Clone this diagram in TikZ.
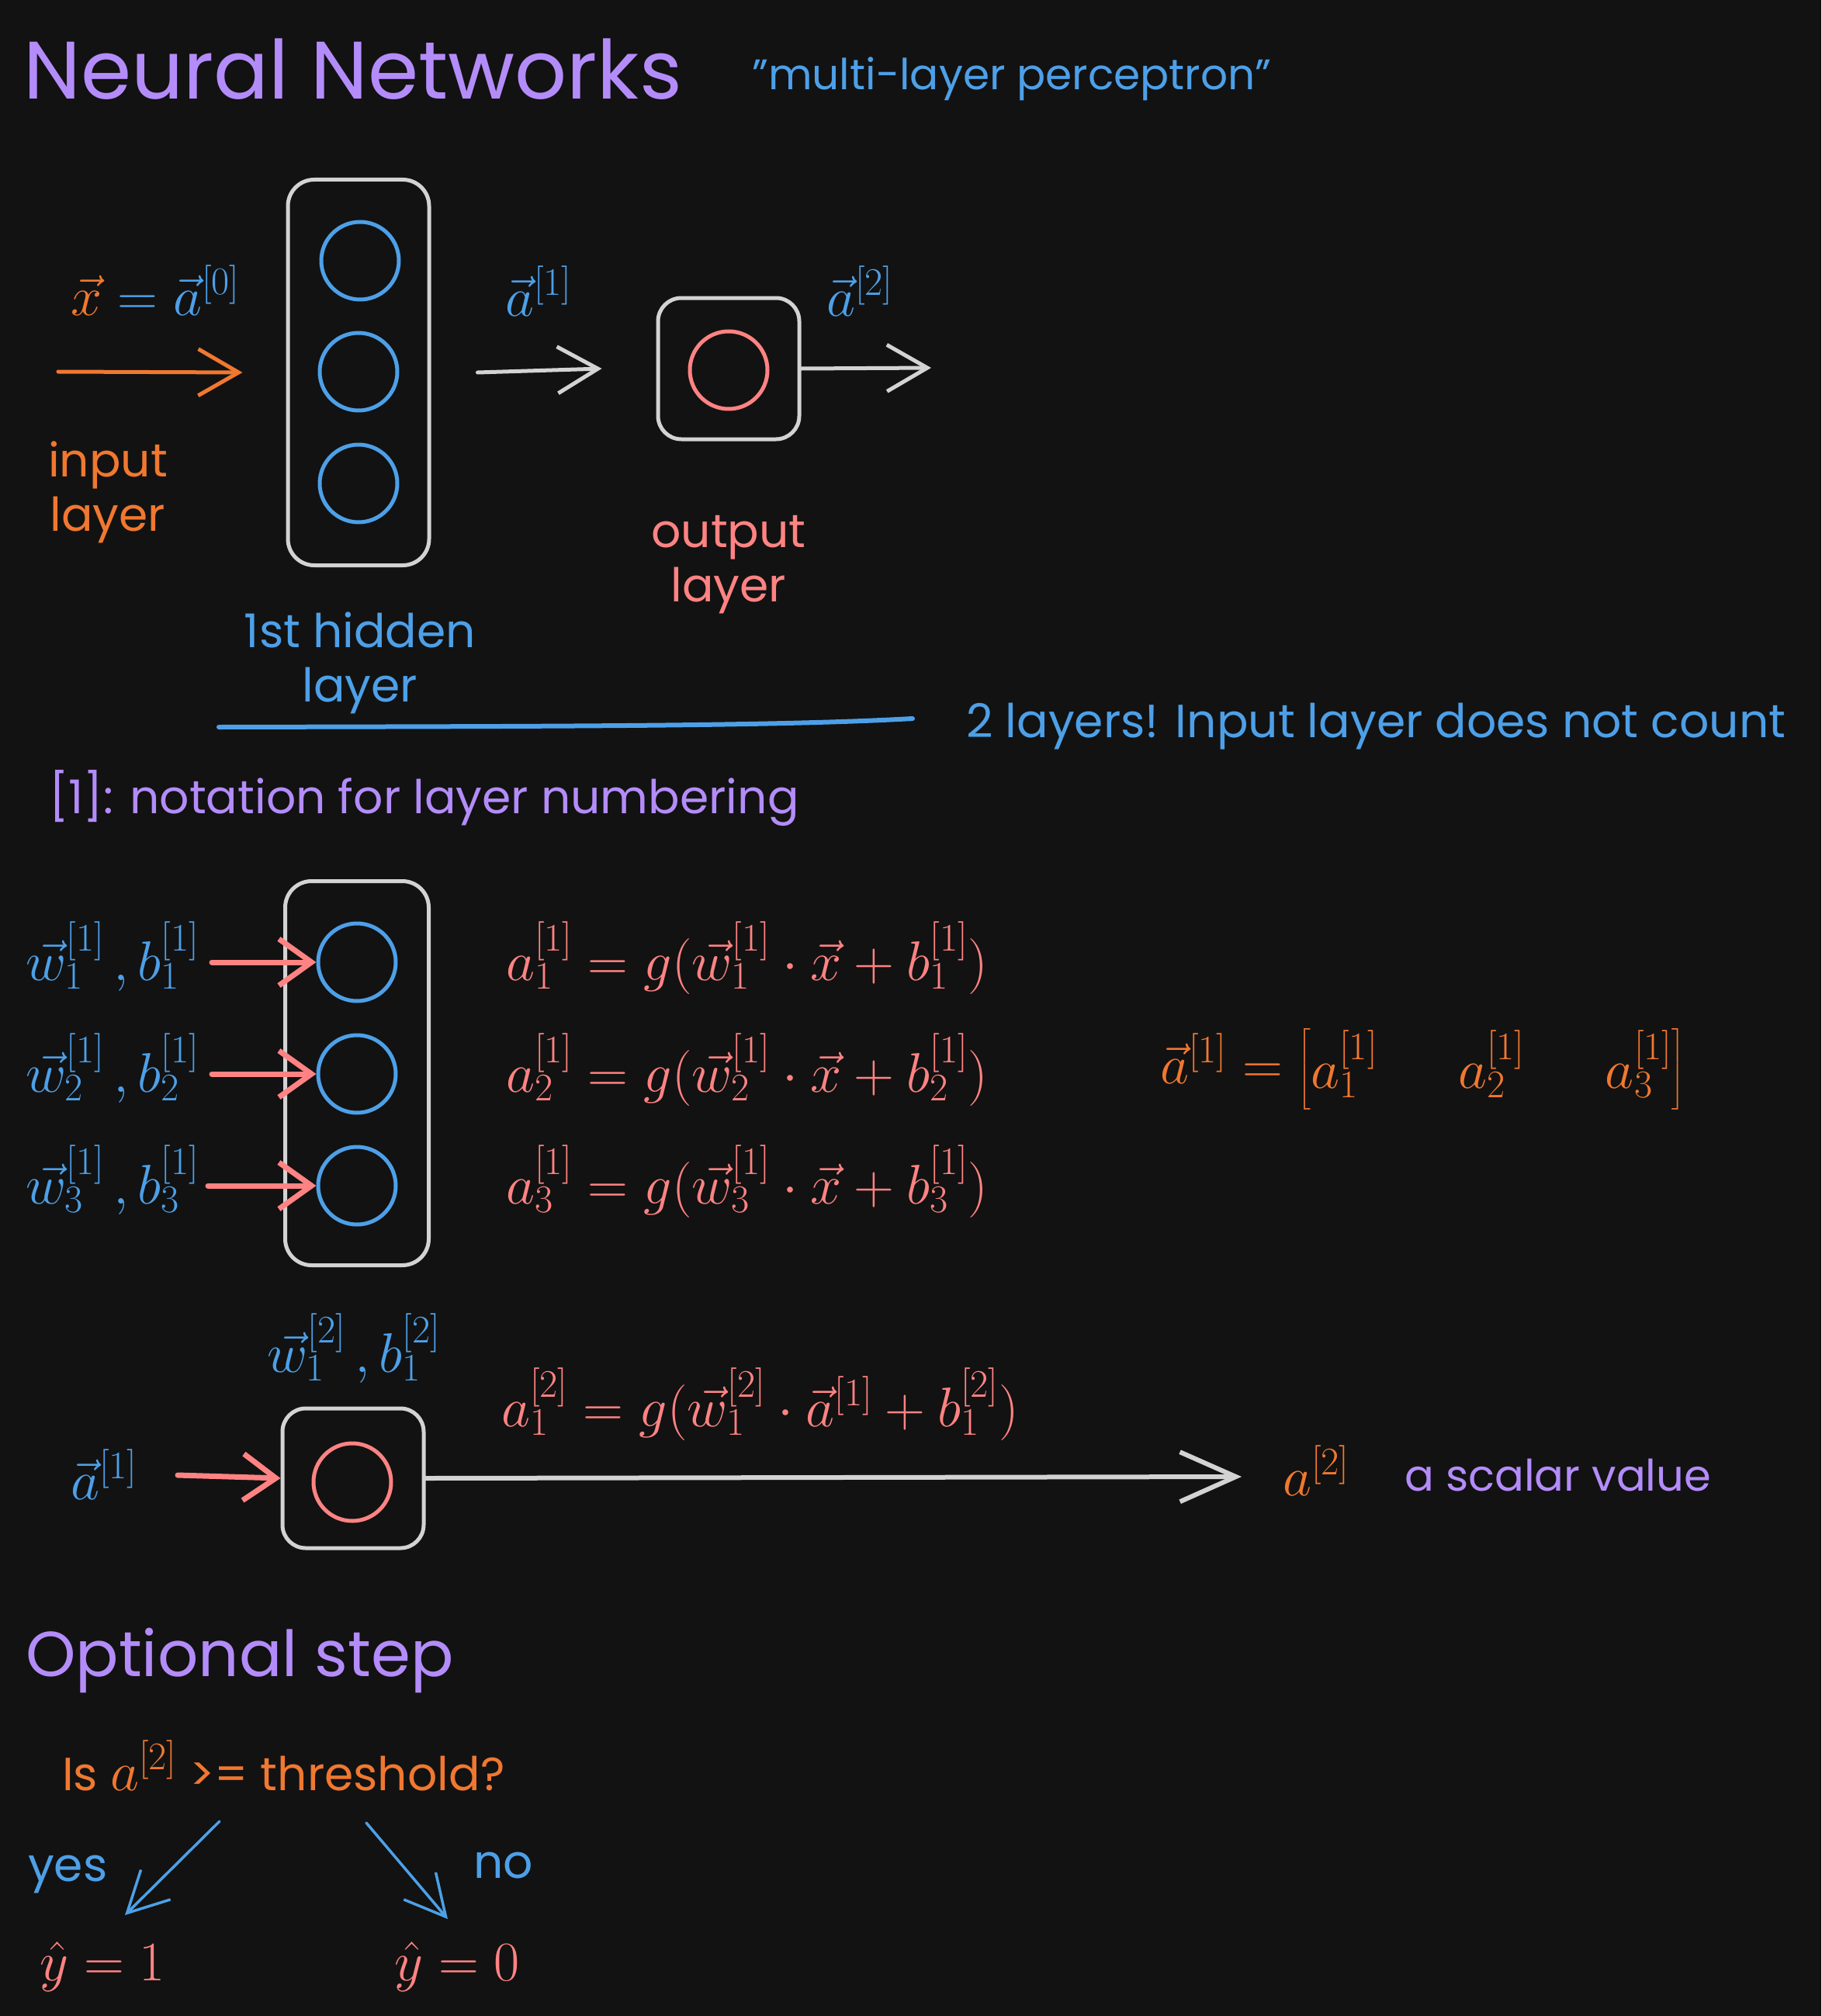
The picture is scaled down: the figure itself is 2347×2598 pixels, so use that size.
\RequirePackage{fix-cm}
\documentclass[tikz,border=0pt]{standalone}
\usepackage{amsmath}
\usepackage[no-math]{fontspec}
\setmainfont{Poppins}
\usetikzlibrary{arrows.meta}
\definecolor{nnbg}{HTML}{121212}
\definecolor{nnpurple}{HTML}{B48CFA}
\definecolor{nnblue}{HTML}{4DA0E8}
\definecolor{nnorange}{HTML}{F07830}
\definecolor{nnred}{HTML}{FF8383}
\definecolor{nngray}{HTML}{D3D3D3}
\begin{document}
\begin{tikzpicture}[x=1pt,y=-1pt,
  every node/.style={inner sep=0pt},
  hand/.style={font=\fontsize{60}{70}\selectfont},
  handtwo/.style={font=\fontsize{60}{70}\selectfont, align=center, anchor=base},
  big/.style={font=\fontsize{105}{120}\selectfont, text=nnpurple},
  eq/.style={font=\fontsize{72}{86}\selectfont},
  layerbox/.style={draw=nngray, line width=5pt, rounded corners=34pt},
  neuron/.style={circle, line width=5pt, minimum size=100pt},
  barb/.style={line width=5pt, line cap=round, -{Straight Barb[length=52pt,width=60pt]}},
  redbarb/.style={color=nnred, line width=7pt, line cap=round, -{Straight Barb[length=42pt,width=60pt]}},
  longbarb/.style={color=nngray, line width=6pt, line cap=round, -{Straight Barb[length=72pt,width=64pt]}},
  bluebarb/.style={color=nnblue, line width=3.5pt, line cap=round, -{Straight Barb[length=52pt,width=54pt]}}]
  \fill[nnbg] (0,0) rectangle (2347,2598);
  \useasboundingbox (0,0) rectangle (2347,2598);

  \node (title) at (30,128) [big, anchor=base west] {Neural Networks};
  \node (mlp) at (969,116) [hand, font=\fontsize{55}{65}\selectfont, anchor=base west, text=nnblue] {"multi-layer perceptron"};

  % first network
  \node (hid) at (462,480) [layerbox, minimum width=182pt, minimum height=497pt] {};
  \node (h1) at (464,336) [neuron, draw=nnblue] {};
  \node (h2) at (462,479) [neuron, draw=nnblue] {};
  \node (h3) at (462,623) [neuron, draw=nnblue] {};
  \node (outbox) at (939,475) [layerbox, rounded corners=30pt, minimum size=182pt] {};
  \node (o1) at (939,477) [neuron, draw=nnred] {};
  \coordinate (xin) at (75,479);
  \coordinate (aout) at (1200,474);
  \draw[barb, nnorange] (xin) -- ([xshift=-56pt]hid.west);
  \draw[barb, nngray] ([xshift=60pt]hid.east) -- ([xshift=-70pt]outbox.west);
  \draw[barb, nngray] (outbox.east) -- (aout);
  \node (xa0) at (91,406) [eq, anchor=base west, text=nnblue] {${\color{nnorange}\vec{x}} = \vec{a}^{[0]}$};
  \node (a1lab) at (651,407) [eq, anchor=base west, text=nnblue] {$\vec{a}^{[1]}$};
  \node (a2lab) at (1065,407) [eq, anchor=base west, text=nnblue] {$\vec{a}^{[2]}$};
  \node (inlab) at (139,684) [handtwo, text=nnorange] {input\\layer};
  \node (hidlab) at (464,904) [handtwo, text=nnblue] {1st hidden\\layer};
  \node (outlab) at (939,775) [handtwo, text=nnred] {output\\layer};
  \draw[nnblue, line width=6pt, line cap=round] (282,937) .. controls (700,936) and (1000,936) .. (1176,926);
  \node (count) at (1245,950) [hand, anchor=base west, text=nnblue] {2 layers! Input layer does not count};
  \node (notation) at (63,1048) [hand, anchor=base west, text=nnpurple] {[1]: notation for layer numbering};

  % hidden layer in detail
  \node (hid2) at (460,1383) [layerbox, minimum width=185pt, minimum height=495pt] {};
  \foreach \i/\y/\b/\s in {1/1240/1263/273, 2/1384/1407/273, 3/1528/1551/268} {
    \node (n\i) at (460,\y) [neuron, draw=nnblue] {};
    \coordinate (w\i) at (\s,\y);
    \draw[redbarb] (w\i) -- (n\i.west);
    \node (wb\i) at (33,\b) [eq, anchor=base west, text=nnblue] {$\vec{w}_{\i}^{[1]}\,, b_{\i}^{[1]}$};
    \node (eq\i) at (652,\b) [eq, anchor=base west, text=nnred] {$a_{\i}^{[1]} = g(\vec{w}_{\i}^{[1]} \cdot \vec{x} + b_{\i}^{[1]})$};
  }
  \node (avec) at (1495,1396) [eq, anchor=base west, text=nnorange] {\setlength{\arraycolsep}{52pt}$\vec{a}^{[1]} = \begin{bmatrix} a_1^{[1]} & a_2^{[1]} & a_3^{[1]} \end{bmatrix}$};

  % output layer in detail
  \node (wb4) at (344,1768) [eq, anchor=base west, text=nnblue] {$\vec{w}_1^{[2]}\,, b_1^{[2]}$};
  \node (obox2) at (455,1905) [layerbox, rounded corners=30pt, minimum width=182pt, minimum height=180pt] {};
  \node (o2) at (454,1910) [neuron, draw=nnred] {};
  \node (a1in) at (91,1932) [eq, anchor=base west, text=nnblue] {$\vec{a}^{[1]}$};
  \coordinate (a1start) at (229,1901);
  \coordinate (a2end) at (1600,1903);
  \draw[redbarb] (a1start) -- (obox2.west);
  \draw[longbarb] (obox2.east) -- (a2end);
  \node (eq4) at (646,1838) [eq, anchor=base west, text=nnred] {$a_1^{[2]} = g(\vec{w}_1^{[2]} \cdot \vec{a}^{[1]} + b_1^{[2]})$};
  \node (a2) at (1653,1927) [eq, anchor=base west, text=nnorange] {$a^{[2]}$};
  \node (scalar) at (1810,1921) [hand, font=\fontsize{56}{66}\selectfont, anchor=base west, text=nnpurple] {a scalar value};

  % threshold
  \node (opt) at (33,2160) [big, font=\fontsize{82}{96}\selectfont, anchor=base west] {Optional step};
  \node (thr) at (80,2307) [hand, anchor=base west, text=nnorange] {Is {\fontsize{72}{86}\selectfont$a^{[2]}$} >= threshold?};
  \node (yhat1) at (51,2552) [eq, anchor=base west, text=nnred] {$\hat{y} = 1$};
  \node (yhat0) at (508,2552) [eq, anchor=base west, text=nnred] {$\hat{y} = 0$};
  \draw[bluebarb] ([shift={(203,40)}]thr.base west) -- ([shift={(110,-84)}]yhat1.base west);
  \draw[bluebarb] ([shift={(392,42)}]thr.base west) -- ([shift={(69,-79)}]yhat0.base west);
  \node (yes) at (36,2424) [hand, anchor=base west, text=nnblue] {yes};
  \node (no) at (610,2420) [hand, anchor=base west, text=nnblue] {no};
\end{tikzpicture}
\end{document}
